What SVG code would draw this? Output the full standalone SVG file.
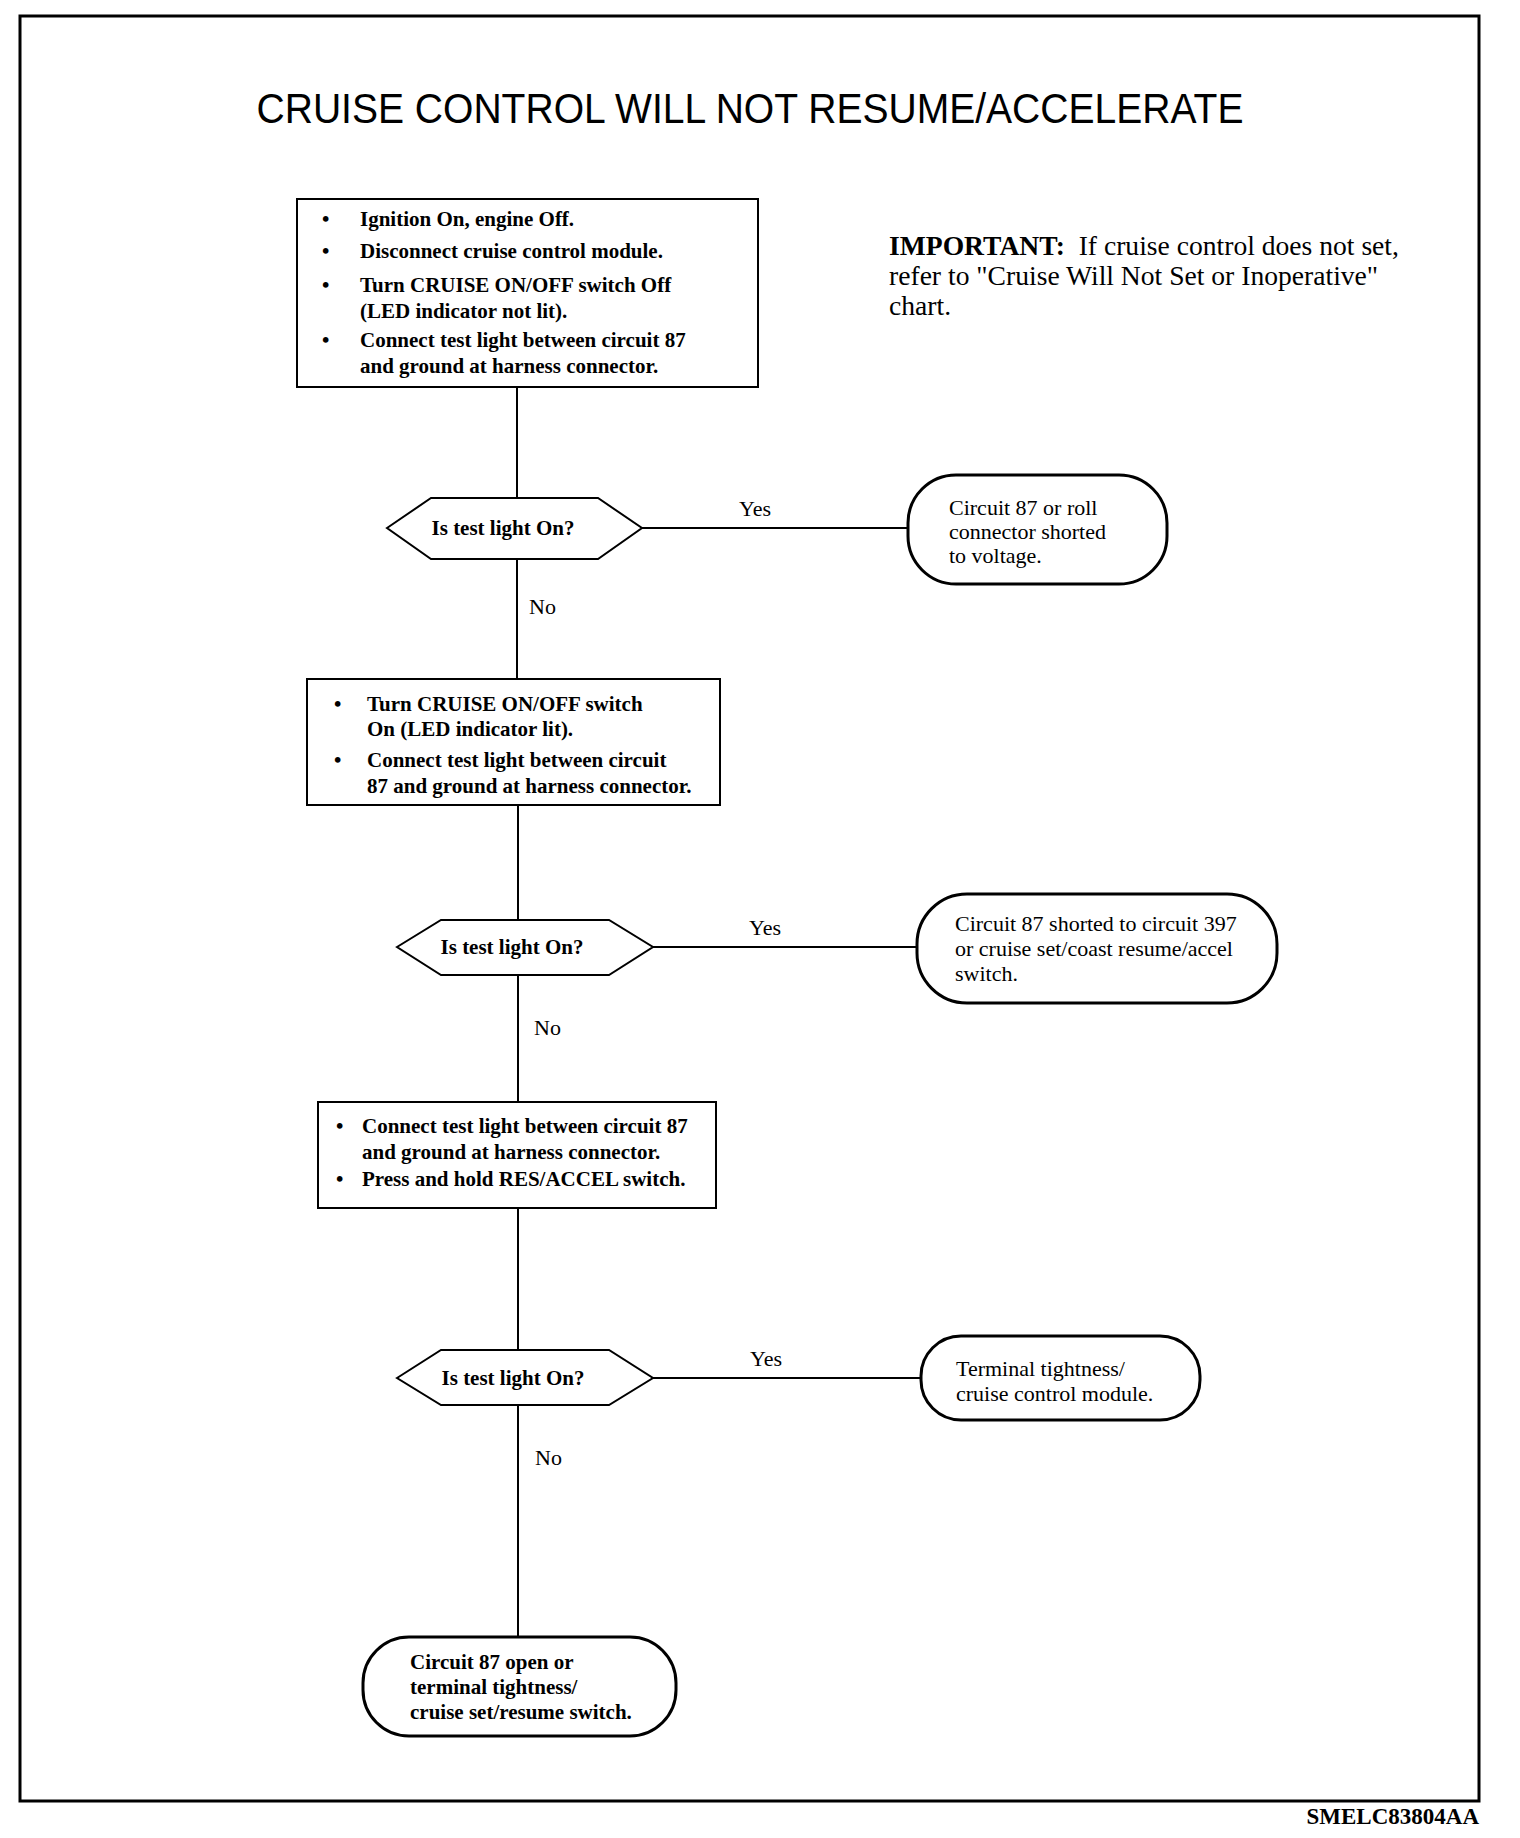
<svg xmlns="http://www.w3.org/2000/svg" width="1520" height="1838" viewBox="0 0 1520 1838">
<style>
.bx{fill:#fff;stroke:#000;stroke-width:2}
.tm{fill:#fff;stroke:#000;stroke-width:3}
.t{font-family:"Liberation Serif","Times New Roman",serif;font-size:21px;fill:#000}
.r{font-size:22px}
.imp{font-size:27.6px}
.b{font-weight:bold}
.lbl{font-family:"Liberation Serif","Times New Roman",serif;font-size:22px;fill:#000}
.ln{stroke:#000;stroke-width:2;fill:none}
</style>
<rect width="1520" height="1838" fill="#fff"/>
<rect x="20" y="16" width="1459" height="1785" fill="none" stroke="#000" stroke-width="3"/>
<text x="750" y="123" text-anchor="middle" font-family="'Liberation Sans',Arial,sans-serif" font-size="42" textLength="987" lengthAdjust="spacingAndGlyphs">CRUISE CONTROL WILL NOT RESUME/ACCELERATE</text>

<g id="important">
<text x="889" y="255" class="t imp" xml:space="preserve"><tspan font-weight="bold">IMPORTANT:</tspan>  If cruise control does not set,</text>
<text x="889" y="285" class="t imp">refer to "Cruise Will Not Set or Inoperative"</text>
<text x="889" y="315" class="t imp">chart.</text>
</g>

<g id="connectors">
<line class="ln" x1="517" y1="387" x2="517" y2="498"/>
<line class="ln" x1="642" y1="528" x2="908" y2="528"/>
<line class="ln" x1="517" y1="559" x2="517" y2="679"/>
<line class="ln" x1="518" y1="805" x2="518" y2="920"/>
<line class="ln" x1="653" y1="947" x2="917" y2="947"/>
<line class="ln" x1="518" y1="975" x2="518" y2="1102"/>
<line class="ln" x1="518" y1="1208" x2="518" y2="1350"/>
<line class="ln" x1="653" y1="1378" x2="921" y2="1378"/>
<line class="ln" x1="518" y1="1405" x2="518" y2="1637"/>
<text class="lbl" x="755" y="516" text-anchor="middle">Yes</text>
<text class="lbl" x="529" y="614">No</text>
<text class="lbl" x="765" y="935" text-anchor="middle">Yes</text>
<text class="lbl" x="534" y="1035">No</text>
<text class="lbl" x="766" y="1366" text-anchor="middle">Yes</text>
<text class="lbl" x="535" y="1465">No</text>
</g>

<g id="box1">
<rect class="bx" x="297" y="199" width="461" height="188"/>
<g class="t b">
<text x="322" y="226">•</text><text x="360" y="226">Ignition On, engine Off.</text>
<text x="322" y="258">•</text><text x="360" y="258">Disconnect cruise control module.</text>
<text x="322" y="292">•</text><text x="360" y="292">Turn CRUISE ON/OFF switch Off</text>
<text x="360" y="318">(LED indicator not lit).</text>
<text x="322" y="347">•</text><text x="360" y="347">Connect test light between circuit 87</text>
<text x="360" y="373">and ground at harness connector.</text>
</g>
</g>

<g id="decision1">
<polygon class="bx" points="387,528 431,498 598,498 642,528 598,559 431,559"/>
<text class="t b" x="503" y="535" text-anchor="middle">Is test light On?</text>
</g>

<g id="result1">
<rect class="tm" x="908" y="475" width="259" height="109" rx="48" ry="48"/>
<g class="t r">
<text x="949" y="515">Circuit 87 or roll</text>
<text x="949" y="539">connector shorted</text>
<text x="949" y="563">to voltage.</text>
</g>
</g>

<g id="box2">
<rect class="bx" x="307" y="679" width="413" height="126"/>
<g class="t b">
<text x="334" y="711">•</text><text x="367" y="711">Turn CRUISE ON/OFF switch</text>
<text x="367" y="736">On (LED indicator lit).</text>
<text x="334" y="767">•</text><text x="367" y="767">Connect test light between circuit</text>
<text x="367" y="793">87 and ground at harness connector.</text>
</g>
</g>

<g id="decision2">
<polygon class="bx" points="397,947 441,920 609,920 653,947 609,975 441,975"/>
<text class="t b" x="512" y="954" text-anchor="middle">Is test light On?</text>
</g>

<g id="result2">
<rect class="tm" x="917" y="894" width="360" height="109" rx="50" ry="50"/>
<g class="t r">
<text x="955" y="931">Circuit 87 shorted to circuit 397</text>
<text x="955" y="956">or cruise set/coast resume/accel</text>
<text x="955" y="981">switch.</text>
</g>
</g>

<g id="box3">
<rect class="bx" x="318" y="1102" width="398" height="106"/>
<g class="t b">
<text x="336" y="1133">•</text><text x="362" y="1133">Connect test light between circuit 87</text>
<text x="362" y="1159">and ground at harness connector.</text>
<text x="336" y="1186">•</text><text x="362" y="1186">Press and hold RES/ACCEL switch.</text>
</g>
</g>

<g id="decision3">
<polygon class="bx" points="397,1378 441,1350 609,1350 653,1378 609,1405 441,1405"/>
<text class="t b" x="513" y="1385" text-anchor="middle">Is test light On?</text>
</g>

<g id="result3">
<rect class="tm" x="921" y="1336" width="279" height="84" rx="40" ry="40"/>
<g class="t r">
<text x="956" y="1376">Terminal tightness/</text>
<text x="956" y="1401">cruise control module.</text>
</g>
</g>

<g id="result4">
<rect class="tm" x="363" y="1637" width="313" height="99" rx="46" ry="46"/>
<g class="t b">
<text x="410" y="1669">Circuit 87 open or</text>
<text x="410" y="1694">terminal tightness/</text>
<text x="410" y="1719">cruise set/resume switch.</text>
</g>
</g>

<text x="1479" y="1824" text-anchor="end" font-family="'Liberation Serif','Times New Roman',serif" font-size="23" font-weight="bold">SMELC83804AA</text>
</svg>
